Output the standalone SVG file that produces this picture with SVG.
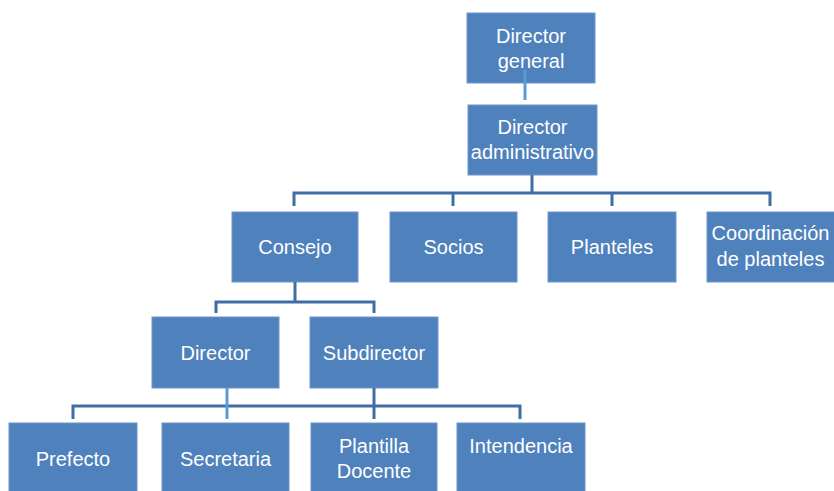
<svg xmlns="http://www.w3.org/2000/svg" width="834" height="491" viewBox="0 0 834 491">
<style>
.box{fill:#4f81bd;stroke:#6f97c8;stroke-width:1}
.t{font-family:"Liberation Sans",Arial,sans-serif;font-size:20px;fill:#ffffff;text-anchor:middle}
.dk{stroke:#3e6ea5;stroke-width:3;fill:none}
.lt{stroke:#5b9bd5;stroke-width:3;fill:none}
</style>
<rect width="834" height="491" fill="#ffffff"/>
<g id="n-director-general"><rect class="box" x="467" y="13" width="128" height="70"/><text class="t" x="531" y="42.5">Director</text><text class="t" x="531" y="67.5">general</text></g>
<g id="n-director-administrativo"><rect class="box" x="468" y="105" width="129" height="70"/><text class="t" x="532.5" y="134">Director</text><text class="t" x="532.5" y="159">administrativo</text></g>
<g id="n-consejo"><rect class="box" x="232" y="212" width="126" height="70"/><text class="t" x="295" y="254">Consejo</text></g>
<g id="n-socios"><rect class="box" x="390" y="212" width="127" height="70"/><text class="t" x="453.5" y="254">Socios</text></g>
<g id="n-planteles"><rect class="box" x="548" y="212" width="128" height="70"/><text class="t" x="612" y="254">Planteles</text></g>
<g id="n-coordinacion"><rect class="box" x="707" y="212" width="128" height="70"/><text class="t" x="770.5" y="240">Coordinación</text><text class="t" x="770.5" y="266">de planteles</text></g>
<g id="n-director"><rect class="box" x="152" y="317" width="127" height="71"/><text class="t" x="215.5" y="360">Director</text></g>
<g id="n-subdirector"><rect class="box" x="310" y="317" width="128" height="71"/><text class="t" x="374" y="360">Subdirector</text></g>
<g id="n-prefecto"><rect class="box" x="9" y="423" width="128" height="70"/><text class="t" x="73" y="466">Prefecto</text></g>
<g id="n-secretaria"><rect class="box" x="162" y="423" width="127" height="70"/><text class="t" x="225.5" y="466">Secretaria</text></g>
<g id="n-plantilla-docente"><rect class="box" x="311" y="423" width="126" height="70"/><text class="t" x="374" y="453">Plantilla</text><text class="t" x="374" y="478">Docente</text></g>
<g id="n-intendencia"><rect class="box" x="457" y="423" width="128" height="70"/><text class="t" x="521" y="453">Intendencia</text></g>
<g id="connectors">
<line class="lt" x1="525" y1="70" x2="525" y2="100"/>
<line class="dk" x1="532" y1="175" x2="532" y2="193"/>
<path class="dk" d="M294 206 V193 H770 V206"/>
<line class="dk" x1="453" y1="193" x2="453" y2="206"/>
<line class="dk" x1="612" y1="193" x2="612" y2="206"/>
<line class="dk" x1="295" y1="282" x2="295" y2="302"/>
<path class="dk" d="M216 313 V302 H374 V313"/>
<path class="dk" d="M73 419 V406 H520 V419"/>
<line class="dk" x1="374" y1="388" x2="374" y2="419"/>
<line class="lt" x1="227" y1="388" x2="227" y2="419"/>
</g>
</svg>
